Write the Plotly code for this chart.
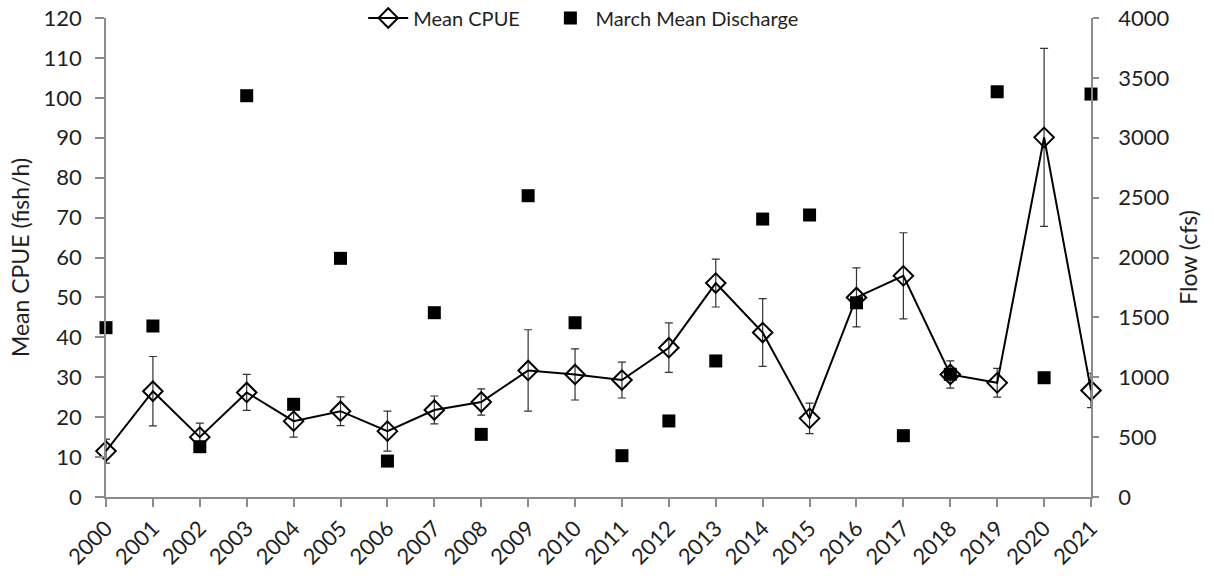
import plotly.graph_objects as go

years = [str(y) for y in range(2000, 2022)]
cpue = [11.5, 26.5, 15.0, 26.2, 19.0, 21.5, 16.5, 21.8, 23.8, 31.7, 30.7, 29.3,
        37.4, 53.6, 41.2, 19.7, 50.0, 55.4, 30.7, 28.6, 90.1, 26.7]
cpue_err = [3.0, 8.7, 3.5, 4.5, 4.0, 3.6, 5.0, 3.5, 3.3, 10.2, 6.4, 4.5,
            6.2, 6.0, 8.5, 3.8, 7.4, 10.8, 3.4, 3.6, 22.3, 4.3]
discharge = [1414, 1428, 420, 3351, 774, 1993, 300, 1539, 523, 2516, 1455, 345,
             635, 1136, 2321, 2355, 1622, 512, 1025, 3384, 996, 3365]

font_fam = "Lato, 'Open Sans', sans-serif"
txt = "#1f1f1f"
axcol = "#8c8c8c"

H = 576
mt, mb = 0, 79
plot_top_px = 18
dom_top = 1 - plot_top_px / (H - mt - mb)

fig = go.Figure()

fig.add_trace(go.Scatter(
    x=years, y=discharge, name="March Mean Discharge", yaxis="y2",
    mode="markers", legendrank=2,
    marker=dict(symbol="square", size=13, color="black"),
    cliponaxis=False,
))

fig.add_trace(go.Scatter(
    x=years, y=cpue, name="Mean CPUE" + "\u00a0" * 4, yaxis="y",
    mode="lines+markers", legendrank=1,
    line=dict(color="black", width=2),
    marker=dict(symbol="diamond-open", size=15, color="black", line=dict(width=2)),
    error_y=dict(type="data", array=cpue_err, visible=True,
                 color="#333333", thickness=1.2, width=4),
    cliponaxis=False,
))

fig.update_layout(
    width=1214, height=H,
    margin=dict(l=106, r=123, t=mt, b=mb, autoexpand=False),
    paper_bgcolor="white", plot_bgcolor="white",
    font=dict(family=font_fam, color=txt, size=22),
    showlegend=True,
    legend=dict(orientation="h", x=0.485, xanchor="center", y=dom_top, yanchor="middle",
                font=dict(size=20, color=txt), bgcolor="rgba(0,0,0,0)",
                itemwidth=40),
    xaxis=dict(
        type="category", range=[0, 21], showgrid=False,
        showline=True, linecolor=axcol, linewidth=1.5,
        ticks="outside", ticklen=8, tickcolor=axcol, tickwidth=1.5,
        tickangle=-45, tickfont=dict(size=22, color=txt),
        zeroline=False,
    ),
    yaxis=dict(
        domain=[0, dom_top],
        range=[0, 120], dtick=10, showgrid=False,
        showline=True, linecolor=axcol, linewidth=1.5,
        ticks="outside", ticklen=9, tickcolor=axcol, tickwidth=1.5,
        ticklabelstandoff=9,
        tickfont=dict(size=22, color=txt), zeroline=False,
        title=dict(text="Mean CPUE (fish/h)", font=dict(size=23, color=txt), standoff=8),
    ),
    yaxis2=dict(
        domain=[0, dom_top],
        range=[0, 4000], dtick=500, overlaying="y", side="right", showgrid=False,
        showline=True, linecolor=axcol, linewidth=1.5,
        ticks="outside", ticklen=6, tickcolor=axcol, tickwidth=1.5,
        ticklabelstandoff=15,
        tickfont=dict(size=22, color=txt), zeroline=False,
        title=dict(text="Flow (cfs)", font=dict(size=23, color=txt), standoff=12),
    ),
)

fig.write_html("out.html")
